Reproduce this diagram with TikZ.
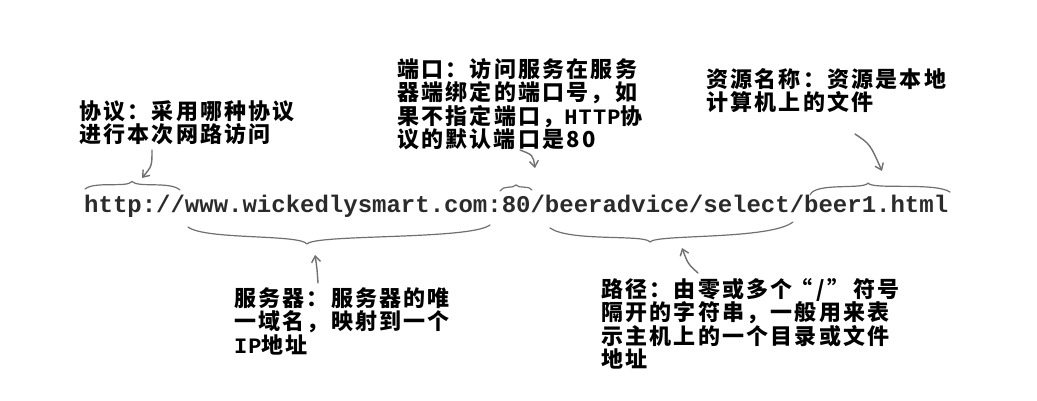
\documentclass[tikz,border=0pt]{standalone}
\usepackage{fontspec}
\usetikzlibrary{arrows.meta}
\newfontfamily\cjk{Noto Sans CJK SC}[LetterSpace=10]
\newfontfamily\urlfont{Liberation Mono}
\newfontfamily\lmono{Liberation Mono}[LetterSpace=5]
\newcommand{\lquo}{\makebox[20pt][r]{“}\hspace{4pt}}
\newcommand{\rquo}{\hspace{2pt}\makebox[26pt][l]{”}}
\definecolor{urlgray}{HTML}{2B2B2B}
\definecolor{pen}{HTML}{707070}
\tikzset{
  lbl/.style={font={\cjk\bfseries\fontsize{22}{23.5}\selectfont}, align=left, inner sep=0pt, text=black, anchor=north west},
  urltxt/.style={font={\urlfont\bfseries\fontsize{24}{28}\selectfont}, inner sep=0pt, text=urlgray, anchor=base west},
  brace/.style={draw=pen, line width=1.2pt, line cap=round, line join=round},
  penarrow/.style={draw=pen, line width=1.4pt, line cap=round, -{Straight Barb[length=6pt,width=9pt,line width=1.4pt]}}
}
\begin{document}
\begin{tikzpicture}[x=1pt,y=-1pt]
\useasboundingbox[fill=white] (0,0) rectangle (1037,401);

% labels
\node[lbl] (proto) at (79,100) {协议：采用哪种协议\\进行本次网路访问};
\node[lbl] (port) at (397,58) {端口：访问服务在服务\\器端绑定的端口号，如\\果不指定端口，{\lmono\bfseries HTTP}协\\议的默认端口是80};
\node[lbl] (res) at (706,68) {资源名称：资源是本地\\计算机上的文件};
\node[lbl] (srv) at (234,287) {服务器：服务器的唯\\一域名，映射到一个\\{\lmono\bfseries IP}地址};
\node[lbl] (path) at (601,278) {路径：由零或多个\lquo/\rquo 符号\\隔开的字符串，一般用来表\\示主机上的一个目录或文件\\地址};

% URL
\node[urltxt] (url) at (84,213) {http://www.wickedlysmart.com:80/beeradvice/select/beer1.html};

% braces
\coordinate (b1) at (132,181.5);
\draw[brace] (85,189) .. controls (95,181) and (127,188) .. (b1) .. controls (138,188) and (170,181) .. (180,190);
\coordinate (b2) at (307,244);
\draw[brace] (188,227) .. controls (205,240) and (300,234) .. (b2) .. controls (315,234) and (470,240) .. (490,225);
\coordinate (b3) at (516,185);
\draw[brace] (500,191) .. controls (503,185) and (513,189) .. (b3) .. controls (519,189) and (529,185) .. (532,190);
\coordinate (b4) at (650,242);
\draw[brace] (550,228) .. controls (570,242) and (645,234) .. (b4) .. controls (656,234) and (770,240) .. (793,222);
\coordinate (b5) at (868,183);
\draw[brace] (810,195) .. controls (815,182) and (864,190) .. (b5) .. controls (872,190) and (935,182) .. (950,192);

% arrows
\coordinate (a1s) at (152,150);
\coordinate (a1e) at (142,178);
\draw[penarrow] (a1s) .. controls (152,166) .. (a1e);
\coordinate (a2s) at (520,150);
\coordinate (a2e) at (535,168);
\draw[penarrow] (a2s) .. controls (533,155) .. (a2e);
\coordinate (a3s) at (855,134);
\coordinate (a3e) at (882,171);
\draw[penarrow] (a3s) .. controls (870,144) .. (a3e);
\coordinate (a4s) at (318,283);
\coordinate (a4e) at (315,255);
\draw[penarrow] (a4s) .. controls (317,268) .. (a4e);
\coordinate (a5s) at (698,273);
\coordinate (a5e) at (682,248);
\draw[penarrow] (a5s) .. controls (688,264) .. (a5e);
\end{tikzpicture}
\end{document}
